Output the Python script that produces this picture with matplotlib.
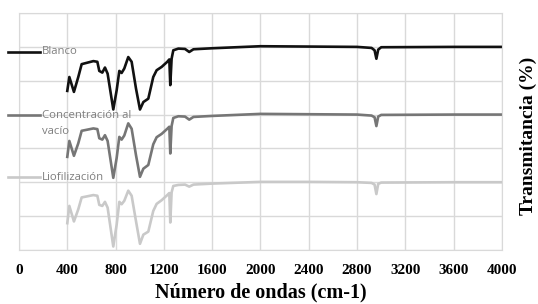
import matplotlib
matplotlib.use("Agg")
import matplotlib.pyplot as plt
from matplotlib.lines import Line2D

# wavenumber (cm-1)
wavenumber = [400, 417, 455, 491, 519, 616, 649, 665, 690, 712, 734, 781, 809, 831,
              850, 872, 905, 933, 969, 1002, 1030, 1071, 1112, 1140, 1182, 1228, 1245,
              1253, 1264, 1278, 1320, 1375, 1410, 1445, 1600, 2000, 2400, 2800, 2920,
              2945, 2960, 2975, 3000, 3600, 4000]

blanco = [4.70, 5.11, 4.67, 5.11, 5.49, 5.58, 5.56, 5.29, 5.24, 5.39, 5.21, 4.15, 4.72,
          5.29, 5.23, 5.36, 5.70, 5.56, 4.77, 4.15, 4.37, 4.47, 5.11, 5.31, 5.41, 5.56,
          5.63, 4.87, 5.65, 5.90, 5.95, 5.94, 5.85, 5.93, 5.96, 6.02, 6.01, 6.00, 5.97,
          5.90, 5.65, 5.92, 5.99, 6.00, 6.00]

concentracion = [2.75, 3.22, 2.78, 3.15, 3.52, 3.59, 3.57, 3.30, 3.26, 3.39, 3.22, 2.13,
                 2.72, 3.34, 3.26, 3.38, 3.74, 3.58, 2.80, 2.16, 2.40, 2.51, 3.12, 3.33,
                 3.43, 3.58, 3.64, 2.85, 3.66, 3.90, 3.95, 3.94, 3.85, 3.93, 3.96, 4.02,
                 4.01, 4.00, 3.97, 3.92, 3.66, 3.94, 3.99, 4.00, 4.00]

liofilizacion = [0.79, 1.30, 0.84, 1.20, 1.55, 1.62, 1.60, 1.33, 1.30, 1.42, 1.25, 0.10,
                 0.75, 1.42, 1.35, 1.45, 1.75, 1.60, 0.85, 0.18, 0.45, 0.54, 1.15, 1.36,
                 1.47, 1.62, 1.68, 0.81, 1.70, 1.89, 1.92, 1.93, 1.87, 1.93, 1.96, 2.01,
                 2.01, 2.00, 1.98, 1.93, 1.65, 1.95, 1.99, 2.00, 2.00]

series = [("Blanco", blanco, "#111111"),
          ("Concentración al", concentracion, "#767676"),
          ("Liofilización", liofilizacion, "#c9c9c9")]

xticks = list(range(0, 4001, 400))

fig = plt.figure(figsize=(5.38, 3.04), dpi=100)
ax = fig.add_axes([0.0353, 0.178, 0.8977, 0.779])

for name, vals, color in series:
    ax.plot(wavenumber, vals, color=color, lw=1.9, solid_joinstyle="round")

ax.set_xlim(0, 4000)
ax.set_ylim(0, 7)
ax.set_xticks(xticks)
ax.set_yticks(range(0, 8))
ax.set_yticklabels([])
ax.tick_params(length=0, pad=10)
for lab in ax.get_xticklabels():
    lab.set_fontfamily("Liberation Serif")
    lab.set_fontweight("bold")
    lab.set_fontsize(11)
ax.grid(True, color="#d9d9d9", lw=1)
ax.set_axisbelow(True)
for sp in ax.spines.values():
    sp.set_color("#d9d9d9")

ax.set_xlabel("Número de ondas (cm-1)", family="Liberation Serif", weight="bold",
              fontsize=14.5, labelpad=4)
fig.text(0.982, 0.553, "Transmitancia (%)", rotation=90, ha="center", va="center",
         family="Liberation Serif", weight="bold", fontsize=14)

# legend drawn at the left, one entry next to each curve
legend_y = [1 - 52 / 304, 1 - 115.5 / 304, 1 - 177 / 304]
for (name, vals, color), yy in zip(series, legend_y):
    fig.add_artist(Line2D([8 / 538, 39.5 / 538], [yy, yy], color=color, lw=1.9,
                          transform=fig.transFigure))
    fig.text(41.5 / 538, yy, name, ha="left", va="center",
             family="Open Sans", fontsize=8.2, color="#7f7f7f")
fig.text(41.5 / 538, 1 - 132 / 304, "vacío", ha="left", va="center",
         family="Open Sans", fontsize=8.2, color="#7f7f7f")

fig.savefig("out.png", dpi=100)
plt.close()
